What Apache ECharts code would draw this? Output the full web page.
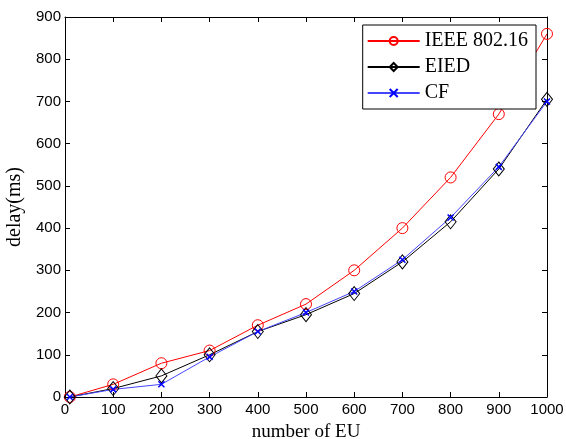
<!DOCTYPE html>
<html>
<head>
<meta charset="utf-8">
<script src="https://cdn.jsdelivr.net/npm/echarts@6/dist/echarts.min.js"></script>
<style>
  html, body { margin: 0; padding: 0; background: #fff; }
  #chart { width: 566px; height: 439px; }
</style>
</head>
<body>
<div id="chart"></div>
<script>
// number of EU
const users = [10, 100, 200, 300, 400, 500, 600, 700, 800, 900, 1000]
// delay (ms) per scheme
const ieee = [0, 30, 80, 110, 170, 220, 300, 400, 520, 670, 860]
const eied = [0, 20, 50, 100, 155, 195, 245, 320, 415, 540, 705]
const cf = [0, 18, 30, 95, 155, 200, 250, 325, 425, 545, 700]

const serif = 'Liberation Serif'
const sans = 'Liberation Sans'
const pair = arr => users.map((u, i) => [u, arr[i]])

const chart = echarts.init(document.getElementById('chart'))

const axisBase = {
  axisLine: { show: true, onZero: false, lineStyle: { color: '#000', width: 1 } },
  axisTick: { show: true, inside: true, length: 5, lineStyle: { color: '#000' } },
  splitLine: { show: false }
}

chart.setOption({
  animation: false,
  backgroundColor: '#fff',
  textStyle: { fontFamily: serif },
  grid: { left: 65, right: 19, top: 17, bottom: 42, outerBoundsMode: 'none' },
  legend: {
    right: 30,
    top: 25,
    orient: 'vertical',
    backgroundColor: '#fff',
    borderColor: '#000',
    borderWidth: 1,
    padding: [6, 8, 6, 4],
    itemGap: 6,
    itemWidth: 52,
    itemHeight: 10,
    textStyle: { fontFamily: serif, fontSize: 20, color: '#000' },
    data: ['IEEE 802.16', 'EIED', 'CF']
  },
  xAxis: [
    Object.assign({}, axisBase, {
      type: 'value', min: 0, max: 1000, interval: 100,
      name: 'number of EU', nameLocation: 'middle', nameGap: 26,
      nameTextStyle: { fontFamily: serif, fontSize: 19, color: '#000' },
      axisLabel: { fontFamily: sans, fontSize: 15, color: '#000', margin: 5, formatter: v => String(v) }
    }),
    Object.assign({}, axisBase, {
      type: 'value', min: 0, max: 1000, interval: 100, position: 'top',
      axisLabel: { show: false }
    })
  ],
  yAxis: [
    Object.assign({}, axisBase, {
      type: 'value', min: 0, max: 900, interval: 100,
      name: 'delay(ms)', nameLocation: 'middle', nameGap: 39,
      nameTextStyle: { fontFamily: serif, fontSize: 20, color: '#000' },
      axisLabel: { fontFamily: sans, fontSize: 15, color: '#000', margin: 4 }
    }),
    Object.assign({}, axisBase, {
      type: 'value', min: 0, max: 900, interval: 100, position: 'right',
      axisLabel: { show: false }
    })
  ],
  series: [
    {
      name: 'IEEE 802.16', type: 'line', data: pair(ieee),
      symbol: 'circle', symbolSize: 11,
      color: '#ff0000',
      lineStyle: { color: '#ff0000', width: 1 },
      itemStyle: { color: 'transparent', borderColor: '#ff0000', borderWidth: 1 }
    },
    {
      name: 'EIED', type: 'line', data: pair(eied),
      symbol: 'diamond', symbolSize: [11, 14],
      color: '#000',
      lineStyle: { color: '#000', width: 1 },
      itemStyle: { color: 'transparent', borderColor: '#000', borderWidth: 1 }
    },
    {
      name: 'CF', type: 'line', data: pair(cf),
      symbol: 'path://M0,0L10,10M10,0L0,10', symbolSize: 6,
      color: '#0000ff',
      lineStyle: { color: '#4545ff', width: 1 },
      itemStyle: { color: 'transparent', borderColor: '#0000ff', borderWidth: 1.5 }
    }
  ]
})
</script>
</body>
</html>
